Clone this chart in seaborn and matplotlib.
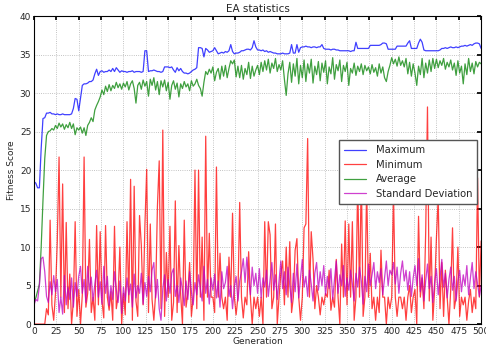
import numpy as np
import pandas as pd
import matplotlib
matplotlib.use("Agg")
import matplotlib.pyplot as plt
import seaborn as sns

generations = list(range(0, 501, 2))

maximum = [
    18.5, 18.3, 17.7, 17.7, 22.8, 26.7, 26.8, 27.4, 27.4, 27.5, 27.3, 27.3, 27.2, 27.3, 27.2, 27.2, 27.3, 27.2, 27.2, 27.2, 27.2, 27.3, 28.0, 29.3, 29.2,
    27.7, 29.3, 31.0, 31.2, 31.2, 31.3, 31.5, 31.5, 31.7, 32.5, 33.1, 32.3, 32.8, 32.9, 32.7, 32.8, 32.8, 33.0, 32.8, 33.2, 32.8, 33.3, 33.0, 32.7, 32.9,
    32.8, 32.8, 32.7, 32.8, 32.8, 32.9, 32.7, 32.8, 32.8, 32.8, 32.7, 32.8, 35.5, 35.5, 32.8, 32.9, 32.9, 33.0, 32.9, 32.8, 32.8, 32.7, 32.8, 33.4, 33.4,
    33.4, 33.3, 33.4, 33.0, 32.7, 33.3, 32.9, 33.2, 32.8, 32.6, 32.6, 32.5, 32.6, 32.8, 33.0, 33.1, 33.3, 35.9, 35.9, 35.8, 34.7, 35.8, 35.6, 35.3, 35.4,
    35.5, 35.9, 35.5, 35.1, 35.2, 35.3, 35.2, 35.4, 35.3, 35.5, 36.3, 35.4, 35.1, 35.2, 35.2, 35.3, 35.5, 35.5, 35.6, 35.7, 35.7, 35.6, 35.9, 36.8, 36.0,
    35.6, 35.6, 35.5, 35.6, 35.4, 35.5, 35.3, 35.4, 35.3, 35.2, 35.2, 35.1, 35.1, 35.1, 35.2, 35.1, 35.1, 35.1, 35.2, 36.3, 35.2, 35.2, 36.3, 35.3, 35.9,
    36.0, 36.0, 36.1, 36.0, 36.0, 35.9, 36.0, 36.0, 35.9, 36.0, 36.0, 36.3, 35.8, 35.7, 35.7, 35.7, 35.6, 35.7, 35.7, 35.6, 35.6, 35.5, 35.5, 35.5, 35.5,
    35.5, 35.5, 35.4, 35.5, 35.5, 36.6, 35.8, 35.8, 35.8, 35.8, 35.8, 35.8, 35.8, 36.2, 36.2, 36.2, 36.2, 36.2, 36.2, 36.3, 36.5, 36.5, 36.4, 35.7, 35.7,
    35.7, 35.7, 35.7, 36.1, 36.1, 36.1, 36.1, 36.1, 36.1, 36.5, 36.8, 35.8, 35.8, 35.8, 35.8, 36.5, 37.0, 36.6, 35.6, 35.5, 35.5, 35.5, 35.5, 35.5, 35.5,
    35.5, 35.5, 35.6, 35.8, 35.8, 35.9, 35.8, 35.9, 36.0, 35.9, 35.9, 36.0, 35.9, 36.0, 36.1, 36.1, 36.2, 36.1, 36.2, 36.3, 36.2, 36.4, 36.5, 36.5, 36.4,
    35.8,
]

minimum = [
    0.0, 0.0, 0.0, 0.0, 0.0, 0.0, 0.0, 2.0, 1.2, 13.5, 2.5, 0.5, 4.0, 10.7, 21.7, 3.5, 18.2, 1.5, 13.2, 2.0, 6.5, 0.0, 3.0, 13.3, 1.0,
    4.5, 0.0, 3.8, 21.7, 2.2, 4.0, 11.0, 1.5, 3.5, 0.5, 12.8, 2.5, 12.0, 3.0, 0.8, 12.8, 3.5, 1.8, 4.2, 0.5, 12.7, 2.0, 3.6, 10.0, 0.0,
    4.0, 1.2, 13.3, 2.8, 18.8, 0.5, 17.9, 3.0, 1.0, 14.1, 10.2, 2.5, 12.8, 20.1, 1.5, 13.0, 3.2, 0.5, 4.0, 15.3, 21.2, 2.0, 25.2, 1.0, 9.3,
    3.5, 12.7, 0.5, 2.8, 16.0, 1.5, 10.2, 3.8, 0.0, 13.5, 2.2, 4.0, 8.0, 1.0, 3.5, 20.0, 2.0, 20.0, 3.5, 11.3, 0.5, 24.4, 3.5, 11.8, 3.5,
    3.5, 1.5, 20.4, 3.5, 9.2, 3.5, 2.0, 3.5, 0.5, 8.7, 3.5, 14.4, 3.5, 1.2, 3.5, 15.8, 3.5, 0.8, 3.5, 2.5, 9.4, 3.5, 0.0, 3.5, 2.0,
    3.5, 1.0, 3.5, 0.0, 13.3, 3.5, 13.3, 11.6, 2.0, 3.5, 13.0, 0.0, 3.5, 6.6, 8.2, 2.5, 10.0, 3.5, 10.7, 1.5, 3.5, 9.6, 11.1, 3.5, 0.5,
    3.5, 12.5, 13.0, 24.1, 3.5, 12.0, 8.4, 2.0, 5.0, 3.5, 1.2, 3.5, 2.5, 4.0, 3.5, 7.0, 1.8, 3.5, 2.2, 8.4, 3.5, 0.0, 10.4, 3.5, 13.4,
    2.5, 13.0, 3.5, 13.3, 0.5, 3.5, 19.0, 3.5, 20.0, 1.0, 3.5, 18.0, 3.5, 9.2, 2.0, 3.5, 0.5, 3.5, 1.5, 9.6, 3.5, 3.5, 0.0, 3.5, 2.0,
    3.5, 17.0, 3.5, 1.0, 3.5, 3.5, 2.0, 3.5, 0.5, 3.5, 5.0, 1.5, 3.5, 4.5, 0.0, 14.0, 3.5, 6.0, 2.0, 12.0, 28.2, 3.0, 11.3, 0.5, 4.5,
    11.2, 16.5, 2.0, 8.0, 1.0, 7.0, 3.5, 0.0, 4.5, 12.5, 2.0, 3.5, 10.0, 1.0, 3.5, 2.5, 3.5, 0.5, 3.0, 4.5, 1.5, 3.5, 2.0, 19.0, 3.5,
    10.8,
]

average = [
    2.8, 3.4, 4.3, 5.2, 10.0, 16.0, 21.5, 24.5, 25.0, 25.1, 25.4, 25.2, 25.8, 25.4, 26.1, 25.6, 26.0, 25.3, 25.9, 25.5, 26.2, 25.4, 26.0, 24.6, 25.5,
    25.2, 25.6, 24.8, 25.5, 24.5, 25.8, 26.2, 26.8, 26.3, 27.8, 28.4, 28.9, 29.5, 30.4, 29.8, 30.9, 30.2, 31.1, 30.3, 31.0, 30.6, 31.4, 30.7, 31.2, 30.5,
    31.3, 30.8, 31.5, 30.4, 31.2, 31.6, 30.6, 28.7, 31.0, 31.4, 30.5, 31.7, 30.9, 31.5, 29.6, 31.8, 31.0, 32.0, 30.4, 31.5, 29.8, 31.6, 30.8, 31.7, 30.3,
    31.4, 29.2, 31.0, 31.6, 30.5, 31.3, 29.5, 31.2, 30.6, 31.5, 30.8, 31.2, 30.3, 31.6, 30.9, 31.2, 31.8, 31.0, 30.6, 29.6, 31.4, 32.8, 32.4, 33.1, 32.6,
    33.4, 31.6, 32.7, 33.2, 31.8, 33.5, 32.2, 33.6, 32.0, 33.2, 34.2, 33.8, 34.3, 32.1, 33.5, 32.0, 33.6, 31.8, 33.2, 32.4, 34.0, 31.9, 33.5, 32.2, 33.0,
    33.6, 32.4, 34.0, 32.8, 34.2, 33.0, 34.4, 32.6, 33.9, 33.2, 34.5, 32.8, 33.7, 33.0, 34.2, 31.8, 29.7, 32.5, 34.0, 31.4, 33.8, 32.2, 34.5, 31.2, 33.6,
    32.0, 34.3, 31.5, 33.8, 32.6, 34.4, 31.3, 33.5, 32.4, 34.1, 31.6, 33.9, 32.7, 34.2, 31.2, 33.4, 32.5, 34.6, 31.8, 33.7, 32.9, 34.3, 31.5, 33.6, 32.8,
    34.0, 31.0, 33.2, 32.6, 33.9, 32.3, 33.5, 32.8, 33.8, 32.4, 33.6, 32.9, 33.4, 32.5, 33.7, 32.7, 33.3, 32.2, 33.8, 32.6, 33.4, 32.0, 31.5, 32.8, 33.6,
    34.6, 33.8, 34.4, 33.5, 34.7, 33.6, 34.2, 33.4, 34.5, 32.5, 34.0, 32.2, 33.8, 32.6, 31.0, 33.5, 32.4, 34.5, 32.0, 33.9, 32.6, 34.3, 32.8, 34.5, 33.2,
    34.4, 33.3, 34.2, 33.6, 34.5, 33.1, 34.0, 33.4, 34.3, 33.0, 33.9, 32.3, 34.2, 32.6, 33.5, 31.2, 33.8, 32.4, 34.5, 32.8, 33.9, 32.5, 34.1, 33.4, 34.0,
    33.8,
]

std_dev = [
    2.5, 3.2, 3.0, 5.0, 8.5, 8.7, 6.8, 3.6, 2.8, 5.5, 3.8, 6.3, 4.2, 5.8, 1.5, 3.5, 1.3, 6.3, 2.5, 4.8, 3.2, 6.0, 2.2, 5.4, 3.6,
    6.2, 7.5, 4.0, 5.8, 2.8, 7.5, 4.4, 6.1, 3.0, 5.2, 7.0, 3.5, 5.5, 2.6, 7.5, 4.0, 6.2, 2.4, 5.0, 3.2, 6.8, 4.5, 2.8, 5.6, 1.4,
    4.8, 3.0, 6.0, 3.8, 5.2, 2.2, 6.5, 3.4, 5.0, 4.0, 6.6, 2.6, 5.4, 3.6, 6.2, 4.2, 7.0, 8.0, 3.4, 5.8, 2.0, 0.5, 4.6, 6.4, 3.0,
    5.8, 4.0, 6.6, 7.2, 3.6, 5.0, 2.8, 6.0, 4.4, 2.4, 5.6, 3.2, 6.8, 4.2, 2.5, 5.4, 3.8, 6.4, 4.6, 3.0, 7.5, 4.0, 5.8, 2.6, 6.0,
    4.4, 6.5, 3.4, 5.6, 2.2, 6.8, 4.6, 5.4, 7.5, 3.6, 5.0, 2.0, 4.8, 6.2, 3.0, 5.6, 6.8, 8.5, 5.4, 8.7, 6.0, 3.8, 7.4, 5.0, 6.6,
    4.0, 7.2, 3.4, 6.0, 4.8, 7.0, 3.6, 5.8, 8.0, 4.4, 6.4, 3.2, 5.6, 8.2, 4.6, 6.8, 3.8, 7.4, 5.0, 2.8, 6.6, 4.2, 7.8, 3.4, 6.0,
    8.4, 4.8, 6.2, 3.6, 7.0, 5.2, 3.0, 6.6, 8.0, 4.4, 6.8, 5.0, 7.6, 3.8, 6.2, 4.6, 7.2, 3.2, 5.8, 8.2, 4.0, 6.4, 5.0, 7.6, 3.6,
    6.0, 4.4, 7.0, 5.2, 3.0, 6.6, 4.8, 7.4, 5.6, 2.6, 6.2, 4.2, 7.8, 5.0, 6.4, 8.0, 4.6, 6.8, 5.4, 7.2, 3.8, 6.0, 8.2, 5.0, 7.0,
    6.4, 8.0, 5.2, 7.4, 4.0, 6.6, 8.2, 5.6, 7.0, 4.4, 6.8, 3.6, 6.0, 7.6, 5.0, 8.5, 4.2, 6.4, 3.0, 5.6, 7.8, 4.6, 6.2, 2.8, 5.4,
    7.2, 3.8, 6.0, 8.4, 4.8, 6.6, 3.4, 5.8, 7.4, 4.4, 6.2, 3.0, 5.6, 7.0, 4.2, 6.4, 5.0, 7.6, 3.8, 6.0, 8.0, 4.6, 6.8, 5.2, 3.6,
    5.0,
]

series_names = ["Maximum", "Minimum", "Average", "Standard Deviation"]
series_colors = ["#0000ff", "#ff0000", "#008000", "#bf00bf"]

df = pd.DataFrame({
    "Generation": generations,
    "Maximum": maximum,
    "Minimum": minimum,
    "Average": average,
    "Standard Deviation": std_dev,
})

sns.set_theme(style="white")
plt.rcParams["font.family"] = ["DejaVu Sans"]

fig = plt.figure(figsize=(4.86, 3.5), dpi=100)
ax = fig.add_axes([0.070, 0.074, 0.920, 0.880])

for name, col in zip(series_names, series_colors):
    sns.lineplot(data=df, x="Generation", y=name, ax=ax, color=col,
                 linewidth=0.9, alpha=0.75, label=name)

ax.set_xlim(0, 500)
ax.set_ylim(0, 40)
ax.set_xticks(range(0, 501, 25))
ax.set_yticks(range(0, 41, 5))
ax.tick_params(axis="both", which="both", direction="in", length=3,
               labelsize=6.5, top=True, right=True, color="black", pad=2)
ax.grid(True, linestyle=":", color="#b0b0b0", linewidth=0.6)
for sp in ax.spines.values():
    sp.set_color("black")
    sp.set_linewidth(0.8)
ax.set_title("EA statistics", fontsize=7.5, pad=3)
ax.set_xlabel("Generation", fontsize=6.5, labelpad=1)
ax.set_ylabel("Fitness Score", fontsize=6.5, labelpad=3)

leg = ax.legend(loc="upper right", bbox_to_anchor=(0.991, 0.597), fontsize=7.2,
                frameon=True, fancybox=False, handlelength=2.2, borderpad=0.5,
                labelspacing=0.45, handletextpad=1.0, borderaxespad=0)
leg.get_frame().set_edgecolor("#555555")
leg.get_frame().set_linewidth(1.0)
leg.get_frame().set_facecolor("white")
leg.get_frame().set_alpha(1.0)

fig.savefig("out.png", dpi=100, facecolor="white")
